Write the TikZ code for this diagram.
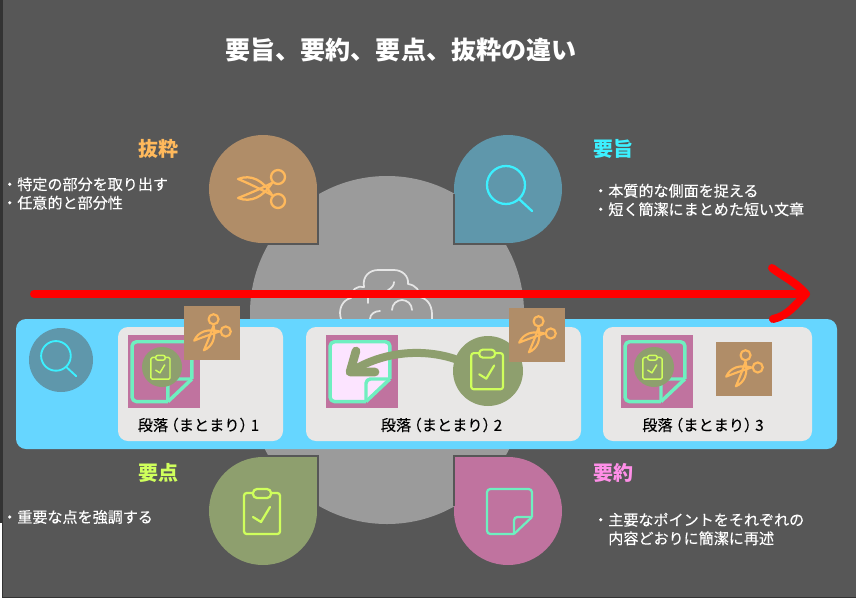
\documentclass[tikz,border=0pt]{standalone}
\usepackage{fontspec}
\setmainfont{Noto Sans CJK JP}
\newfontfamily\semifont[FakeBold=0.25]{Noto Sans CJK JP}
\usetikzlibrary{calc}
\definecolor{bgd}{HTML}{575757}
\definecolor{edged}{HTML}{333333}
\definecolor{stad}{HTML}{9B9B9B}
\definecolor{bandc}{HTML}{66D6FF}
\definecolor{cardc}{HTML}{E8E7E6}
\definecolor{brownc}{HTML}{B08D68}
\definecolor{tealc}{HTML}{5F97AB}
\definecolor{greenc}{HTML}{8E9F6E}
\definecolor{pinkc}{HTML}{C0739F}
\definecolor{orangei}{HTML}{FFB95C}
\definecolor{cyani}{HTML}{3CF0FF}
\definecolor{limei}{HTML}{CFFF5C}
\definecolor{mintc}{HTML}{6FEFC0}
\definecolor{pinkh}{HTML}{FF8FE8}
\definecolor{paper}{HTML}{FCE4FF}
\definecolor{brainc}{HTML}{E6E6E6}
\tikzset{
  drop/.style={circle,fill=#1,minimum size=81pt,inner sep=0pt,outer sep=0pt},
  dot/.style={circle,fill=#1,inner sep=0pt,outer sep=0pt},
  sq/.style={rectangle,fill=#1,inner sep=0pt,outer sep=0pt},
  hd/.style={font=\bfseries\fontsize{15}{18}\selectfont,text=#1,inner sep=0pt},
  body/.style={font=\semifont\fontsize{11.3}{13.9}\selectfont,text=white,align=left,anchor=west,inner sep=0pt},
  lab/.style={font=\semifont\fontsize{11.4}{14}\selectfont,text=black,inner sep=0pt},
  tear/.style={draw=bgd,line width=1.5pt,line cap=butt},
}
% #1 position, #2 scale, #3 rotation, #4 line width
\newcommand\icocut[4]{\begin{scope}[shift={#1},rotate=#3,x=#2*.75pt,y=-#2*.75pt,draw=orangei,line width=#4,line join=round,line cap=round]
 \draw (15,-12) circle[radius=7];
 \draw (15,12) circle[radius=7];
 \draw (-25,-10) .. controls (-12,-15) and (0,-9) .. (9,6) .. controls (-5,-1) and (-15,-6) .. (-25,-10);
 \draw (-25,9) .. controls (-12,14) and (0,8) .. (9,-6) .. controls (-5,1) and (-15,5) .. (-25,9);
\end{scope}}
\newcommand\icomag[3]{\begin{scope}[shift={#1},x=#2*.75pt,y=-#2*.75pt,draw=cyani,line width=#3,line cap=round]
 \draw (-2,-4) circle[radius=19];
 \draw (11,10) -- (24,22);
\end{scope}}
\newcommand\icoclip[3]{\begin{scope}[shift={#1},x=#2*.75pt,y=-#2*.75pt,draw=limei,line width=#3,line cap=round,line join=round]
 \draw[rounded corners=#2*2pt] (-10,-18) -- (-19,-18) -- (-19,23) -- (17,23) -- (17,-18) -- (8,-18);
 \draw[rounded corners=#2*3pt] (-10,-22) rectangle (8,-13);
 \draw (-10,6) -- (-2,11) -- (7,-4);
\end{scope}}
% #1 position, #2 scale, #3 line width, #4 paper colour
\newcommand\iconote[4]{\begin{scope}[shift={#1},x=#2*.75pt,y=-#2*.75pt,line width=#3,line join=round]
 \fill[#4,rounded corners=#2*2.5pt] (-21,-22) -- (24,-22) -- (24,6) -- (6,23) -- (-21,23) -- cycle;
 \draw[mintc,rounded corners=#2*2.5pt] (6,23) -- (-21,23) -- (-21,-22) -- (24,-22) -- (24,6);
 \draw[mintc] (24,6) -- (6,23);
 \draw[mintc,rounded corners=#2*2.5pt] (6,23) -- (6,6) -- (24,6);
\end{scope}}
\begin{document}
\begin{tikzpicture}[x=.75pt,y=-.75pt]
\useasboundingbox (0,0) rectangle (856,600);
\fill[white] (0,0) rectangle (856,600);
\fill[edged] (0,0) rectangle (3,523);
\fill[edged] (2,523) rectangle (856,598);
\fill[bgd] (3,0) rectangle (856,597);
% central stadium
\fill[stad,rounded corners=102.7pt] (250,176) rectangle (524,524);
% brain outline
\draw[brainc,line width=1.3pt,line cap=round,line join=round]
  (341,319) .. controls (338,310) and (342,300) .. (351,298)
  .. controls (350,290) and (358,285) .. (364,287)
  .. controls (362,276) and (370,270) .. (378,270) -- (394,270)
  .. controls (402,270) and (409,276) .. (408,284)
  .. controls (416,285) and (420,291) .. (420,297)
  .. controls (428,299) and (433,306) .. (432,319);
\draw[brainc,line width=1.3pt,line cap=round] (394,282) .. controls (394,285) and (392,288) .. (388,290);
\draw[brainc,line width=1.3pt,line cap=round] (368,298) -- (368,303);
\draw[brainc,line width=1.3pt,line cap=round] (370,319) .. controls (370,314) and (375,311) .. (380,311);
\draw[brainc,line width=1.3pt,line cap=round] (392,310) .. controls (392,304) and (397,300) .. (402,300) .. controls (407,300) and (412,304) .. (412,310);
% teardrops
\node[drop=brownc] (dropcut) at (263,189) {};
\fill[brownc] (dropcut.center) rectangle (317,243);
\draw[tear] (318,194) -- (318,244) -- (263,244);
\node[drop=tealc] (dropmag) at (508,189) {};
\fill[tealc] (dropmag.center) rectangle (455,243);
\draw[tear] (454,194) -- (454,244) -- (508,244);
\node[drop=greenc] (dropclip) at (263,511) {};
\fill[greenc] (dropclip.center) rectangle (317,457);
\draw[tear] (318,506) -- (318,456) -- (263,456);
\node[drop=pinkc] (dropnote) at (508,511) {};
\fill[pinkc] (dropnote.center) rectangle (455,457);
\draw[tear] (454,506) -- (454,456) -- (508,456);
\icocut{(263,189)}{1}{0}{1.7pt}
\icomag{(508,189)}{1}{1.7pt}
\icoclip{(263,511)}{1}{1.7pt}
\iconote{(508,511)}{1}{1.7pt}{pinkc}
% title and headings
\node[font=\bfseries\fontsize{18.8}{22}\selectfont,text=white,inner sep=0pt] (title) at (401,50) {要旨、要約、要点、抜粋の違い};
\node[hd=orangei] (hcut) at (158,149) {抜粋};
\node[hd=cyani] (hmag) at (613.5,149) {要旨};
\node[hd=limei] (hclip) at (158,473) {要点};
\node[hd=pinkh] (hnote) at (613.5,473) {要約};
\node[body] (tcut) at (2,193.5) {・特定の部分を取り出す\\・任意的と部分性};
\node[body] (tmag) at (593,200) {・本質的な側面を捉える\\・短く簡潔にまとめた短い文章};
\node[body] (tclip) at (2,517) {・重要な点を強調する};
\node[body] (tnote) at (593,529) {・主要なポイントをそれぞれの\\\hspace{11.3pt}内容どおりに簡潔に再述};
% band and cards
\fill[bandc,rounded corners=7.5pt] (16,319) rectangle (837,449);
\fill[cardc,rounded corners=7.5pt] (118,327) rectangle (283,441);
\fill[cardc,rounded corners=7.5pt] (306,327) rectangle (581,441);
\fill[cardc,rounded corners=7.5pt] (603,327) rectangle (812,441);
\node[dot=tealc,minimum size=48pt] (bandmag) at (61,360) {};
\icomag{(57.5,359)}{.78}{1.4pt}
% card 1
\node[sq=pinkc,minimum width=54pt,minimum height=54.75pt] (n1) at (164,371.5) {};
\iconote{(160,371)}{1.33}{2.6pt}{pinkc}
\node[dot=greenc,minimum size=30pt] (c1) at (162,367) {};
\icoclip{(161,367)}{.53}{1.1pt}
\node[sq=brownc,minimum width=42pt,minimum height=40.5pt] (s1) at (212,333) {};
\icocut{(212,333)}{.72}{45}{1.6pt}
% card 2
\node[sq=pinkc,minimum width=54pt,minimum height=54.75pt] (n2) at (362,371.5) {};
\iconote{(358,371)}{1.33}{2.6pt}{paper}
\node[dot=greenc,minimum size=52.5pt] (c2) at (488,371) {};
\icoclip{(488,369)}{.88}{1.6pt}
\node[sq=brownc,minimum width=42pt,minimum height=40.5pt] (s2) at (537,335) {};
\icocut{(537,335)}{.72}{45}{1.6pt}
% card 3
\node[sq=pinkc,minimum width=54pt,minimum height=54.75pt] (n3) at (657,371.5) {};
\iconote{(653,371)}{1.33}{2.6pt}{pinkc}
\node[dot=greenc,minimum size=30pt] (c3) at (654,367) {};
\icoclip{(653,367)}{.53}{1.1pt}
\node[sq=brownc,minimum width=42pt,minimum height=40.5pt] (s3) at (744,369) {};
\icocut{(744,369)}{.72}{45}{1.6pt}
% labels
\node[lab] (l1) at (198.5,425) {段落\kern-3.5pt（まとまり）\kern-3pt 1};
\node[lab] (l2) at (441.5,425) {段落\kern-3.5pt（まとまり）\kern-3pt 2};
\node[lab] (l3) at (703,425) {段落\kern-3.5pt（まとまり）\kern-3pt 3};
% connectors
\coordinate (gtip) at ($(n2.center)+(-12,0.5)$);
\draw[greenc,line width=6pt,line cap=round,line join=round]
  (c2.160) .. controls (425,349) and (385,350) .. (gtip);
\draw[greenc,line width=6.5pt,line cap=round,line join=round]
  ($(gtip)+(6,-21)$) -- (gtip) -- ($(gtip)+(25,0)$);
\coordinate (rs) at (34,294);
\coordinate (re) at (806,294);
\draw[red,line width=6pt,line cap=round] (rs) -- (re);
\draw[red,line width=6pt,line cap=round,line join=round]
  ($(re)+(-34,-26)$) .. controls ($(re)+(-24,-18)$) and ($(re)+(-10,-12)$) .. (re)
  .. controls ($(re)+(-10,10)$) and ($(re)+(-18,22)$) .. ($(re)+(-33,25)$);
\end{tikzpicture}
\end{document}
